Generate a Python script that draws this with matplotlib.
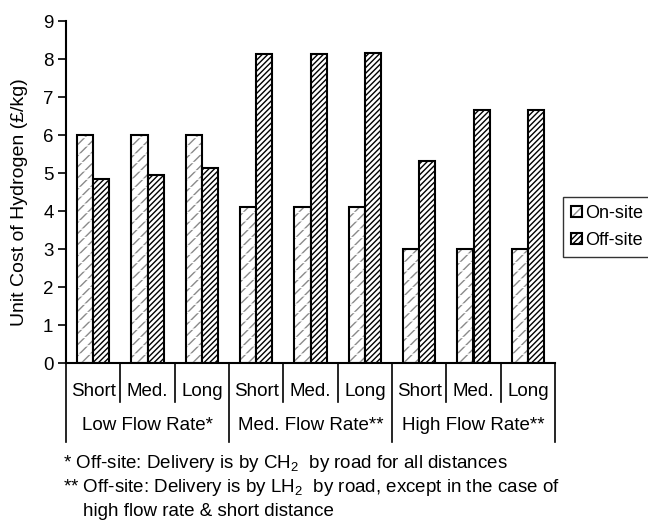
import matplotlib
matplotlib.use("Agg")
import matplotlib.pyplot as plt
import matplotlib.transforms as mtransforms
from matplotlib.patches import Patch
from matplotlib.legend_handler import HandlerTuple
import numpy as np

plt.rcParams["font.family"] = ["Liberation Sans", "DejaVu Sans"]
plt.rcParams["mathtext.fontset"] = "custom"
plt.rcParams["mathtext.rm"] = "Liberation Sans"
plt.rcParams["hatch.linewidth"] = 1.0

# 数据
distances = ["Short", "Med.", "Long"] * 3
flow_rates = ["Low Flow Rate*", "Med. Flow Rate**", "High Flow Rate**"]
on_site = [6.0, 6.0, 6.0, 4.1, 4.1, 4.1, 3.0, 3.0, 3.0]
off_site = [4.84, 4.96, 5.14, 8.13, 8.13, 8.17, 5.32, 6.67, 6.67]
yticks = list(range(0, 10))

footnotes = [
    r"* Off-site: Delivery is by CH$_\mathregular{2}$  by road for all distances",
    r"** Off-site: Delivery is by LH$_\mathregular{2}$  by road, except in the case of",
    "high flow rate & short distance",
]

fs = 13.5
fig = plt.figure(figsize=(6.48, 5.22), dpi=100)
ax = fig.add_axes([66 / 648, 1 - 363 / 522, (555 - 66) / 648, (363 - 21) / 522])

x = np.arange(len(distances))
w = 0.3

# 底纹 + 外框
ax.bar(x - w / 2, on_site, w, facecolor="white", edgecolor="#8a8a8a", hatch="///", linewidth=0)
ax.bar(x - w / 2, on_site, w, facecolor="none", edgecolor="white", hatch="--", linewidth=0)
ax.bar(x - w / 2, on_site, w, facecolor="none", edgecolor="black", linewidth=1.5)
ax.bar(x + w / 2, off_site, w, facecolor="white", edgecolor="black", hatch="//////", linewidth=0)
ax.bar(x + w / 2, off_site, w, facecolor="none", edgecolor="black", linewidth=1.5)

ax.set_xlim(-0.5, len(distances) - 0.5)
ax.set_ylim(0, 9)
ax.set_yticks(yticks)
ax.tick_params(axis="y", direction="out", length=6, width=1.2, labelsize=fs, pad=3)
ax.set_xticks([])
for s in ["top", "right"]:
    ax.spines[s].set_visible(False)
ax.spines["left"].set_linewidth(1.5)
ax.spines["bottom"].set_linewidth(1.5)
ax.set_ylabel("Unit Cost of Hydrogen (£/kg)", fontsize=14)
ax.yaxis.set_label_coords(-(66 - 28) / (555 - 66), 0.47)

# 两级横轴标签
trans = mtransforms.blended_transform_factory(ax.transData, ax.transAxes)
ax_h = (363 - 21)
y_sub = -(392 - 363) / ax_h
y_grp = -(425 - 363) / ax_h
y_sub_end = -(402 - 363) / ax_h
y_grp_end = -(442 - 363) / ax_h

for i, d in enumerate(distances):
    ax.text(i, y_sub, d, transform=trans, ha="center", va="center", fontsize=fs)
for b in np.arange(-0.5, len(distances), 1.0):
    long_line = (b + 0.5) % 3 == 0
    end = y_grp_end if long_line else y_sub_end
    ax.plot([b, b], [0, end], transform=trans, color="black", lw=1.2, clip_on=False)
for g, name in enumerate(flow_rates):
    ax.text(g * 3 + 1, y_grp, name, transform=trans, ha="center", va="center", fontsize=fs)

# 图例
h_on = (Patch(facecolor="white", edgecolor="#8a8a8a", hatch="///", linewidth=0),
        Patch(facecolor="none", edgecolor="black", linewidth=1.5))
h_off = (Patch(facecolor="white", edgecolor="black", hatch="//////", linewidth=0),
         Patch(facecolor="none", edgecolor="black", linewidth=1.5))
leg = fig.legend([h_on, h_off], ["On-site", "Off-site"],
                 handler_map={tuple: HandlerTuple(ndivide=1, pad=0)},
                 loc="upper left", bbox_to_anchor=(563 / 648, 1 - 197 / 522),
                 fontsize=13, fancybox=False, frameon=True, handlelength=0.6,
                 handleheight=0.6, handletextpad=0.2, borderpad=0.45,
                 labelspacing=0.55, borderaxespad=0)
leg.get_frame().set_edgecolor("black")
leg.get_frame().set_linewidth(1.0)

# 注释
fig.text(63 / 648, 1 - 463 / 522, footnotes[0], fontsize=fs, va="center", ha="left")
fig.text(63 / 648, 1 - 488 / 522, footnotes[1], fontsize=fs, va="center", ha="left")
fig.text(83 / 648, 1 - 512 / 522, footnotes[2], fontsize=fs, va="center", ha="left")

fig.savefig("out.png", dpi=100)
